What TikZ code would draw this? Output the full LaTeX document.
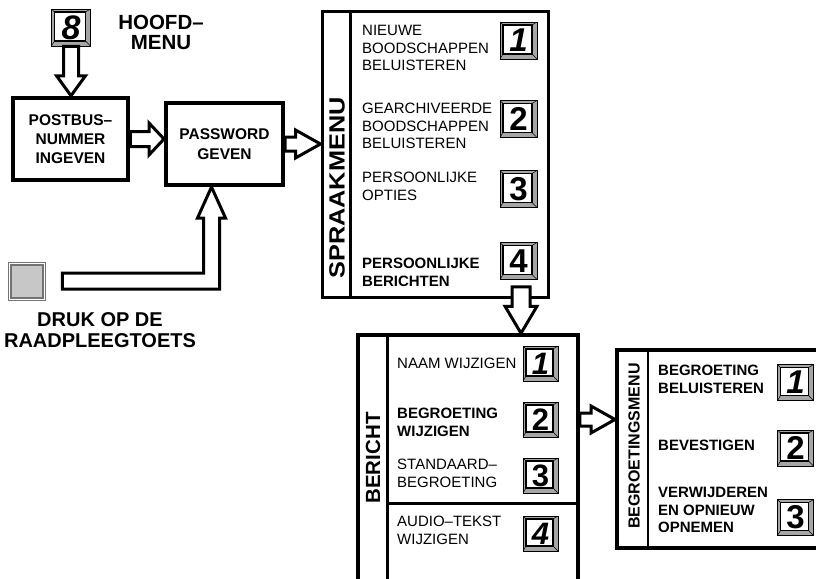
\documentclass[tikz,border=0pt]{standalone}
\usepackage{fontspec}
\setmainfont{Liberation Sans}
\usetikzlibrary{calc}
\tikzset{
  menubox/.style={draw, rectangle, inner sep=0pt, fill=white, line width=#1},
  divider/.style={line width=2.5pt},
  harrow/.style={draw, line width=3pt, fill=white, line join=miter},
  keybtn/.style={draw, line width=0.8pt, fill=black!35, rectangle, inner sep=0pt,
    minimum width=#1, minimum height=#1,
    font=\fontsize{33}{33}\selectfont\bfseries,
    path picture={
      \draw[line width=0.5pt] (path picture bounding box.north west) -- ++(3,3);
      \draw[line width=0.5pt] (path picture bounding box.south east) -- ++(-5,-5);
      \draw[line width=0.5pt] (path picture bounding box.north east) -- ++(-5,3);
      \draw[line width=0.5pt] (path picture bounding box.south west) -- ++(3,-5);
      \draw[line width=1.8pt, fill=white]
        ($(path picture bounding box.north west)+(3,3)$) rectangle
        ($(path picture bounding box.south east)+(-5,-5)$);
    }},
  itemtext/.style={anchor=north west, inner sep=0pt, align=left,
    font=\fontsize{15}{17.5}\selectfont},
  boldtext/.style={itemtext, font=\fontsize{15}{17.5}\selectfont\bfseries},
  sidelabel/.style={rotate=90, inner sep=0pt, font=\bfseries}
}
\newcommand\hollowH[5]{% start, tip, shaft half, head half, head length
  \draw[harrow] ($(#1)+(0,-#3)$) -- ($(#2)+(-#5,-#3)$) -- ($(#2)+(-#5,-#4)$) -- (#2)
    -- ($(#2)+(-#5,#4)$) -- ($(#2)+(-#5,#3)$) -- ($(#1)+(0,#3)$) -- cycle;}
\newcommand\hollowV[5]{% start, tip (downwards)
  \draw[harrow] ($(#1)+(-#3,0)$) -- ($(#2)+(-#3,-#5)$) -- ($(#2)+(-#4,-#5)$) -- (#2)
    -- ($(#2)+(#4,-#5)$) -- ($(#2)+(#3,-#5)$) -- ($(#1)+(#3,0)$) -- cycle;}
\begin{document}
\begin{tikzpicture}[x=1pt,y=-1pt]
\useasboundingbox (0,0) rectangle (816,578);
\clip (0,0) rectangle (816,578);
\fill[white] (0,0) rectangle (816,578);

% top-left part
\node[keybtn=37pt, minimum width=39pt, font=\fontsize{34}{34}\selectfont\bfseries] (k8) at (71,27.5) {\itshape 8};
\node[inner sep=0pt, align=center, font=\fontsize{20.5}{20}\selectfont\bfseries] (hoofd) at (161,32.5) {HOOFD–\\MENU};
\node[menubox=4.5pt, minimum width=115pt, minimum height=82pt, align=center,
      font=\fontsize{15.5}{19}\selectfont\bfseries] (postbus) at (70.5,139) {POSTBUS–\\NUMMER\\INGEVEN};
\node[menubox=4pt, minimum width=117pt, minimum height=82pt, align=center,
      font=\fontsize{15.5}{20}\selectfont\bfseries] (password) at (224.5,144) {PASSWORD\\GEVEN};

% raadpleegtoets
\node[draw=black!55, line width=0.6pt, minimum width=37pt, minimum height=38pt, inner sep=0pt,
      path picture={\draw[line width=1.3pt, fill=black!22]
        ($(path picture bounding box.north west)+(3,3)$) rectangle
        ($(path picture bounding box.south east)+(-2,-2)$);}] (btn) at (26.5,281) {};
\node[inner sep=0pt, align=center, font=\fontsize{20}{21}\selectfont\bfseries] (druk) at (100,330) {DRUK OP DE\\RAADPLEEGTOETS};

% spraakmenu
\node[menubox=3pt, minimum width=226pt, minimum height=285pt] (spraak) at (435,154.5) {};
\draw[divider] ($(spraak.north west)+(30,0)$) -- ($(spraak.south west)+(30,0)$);
\node[sidelabel] (spraaklbl) at (337,188) {\scalebox{1.15}[1]{\fontsize{22}{22}\selectfont SPRAAKMENU}};
\node[itemtext] (s1) at (362,25) {NIEUWE\\BOODSCHAPPEN\\BELUISTEREN};
\node[itemtext] (s2) at (362,103) {GEARCHIVEERDE\\BOODSCHAPPEN\\BELUISTEREN};
\node[itemtext] (s3) at (362,172) {PERSOONLIJKE\\OPTIES};
\node[boldtext] (s4) at (362,258) {PERSOONLIJKE\\BERICHTEN};
\node[keybtn=37pt] (ks1) at (518.5,40.5) {\itshape 1};
\node[keybtn=37pt] (ks2) at (518.5,119) {2};
\node[keybtn=37pt] (ks3) at (518.5,189) {3};
\node[keybtn=37pt] (ks4) at (518.5,261) {4};

% bericht
\node[menubox=3.5pt, minimum width=220pt, minimum height=265pt] (bericht) at (468,467.5) {};
\draw[divider] ($(bericht.north west)+(31,0)$) -- ($(bericht.south west)+(31,0)$);
\draw[divider] ($(bericht.north west)+(31,170)$) -- ($(bericht.north east)+(0,170)$);
\node[sidelabel, font=\fontsize{20.5}{20.5}\selectfont\bfseries] (berichtlbl) at (373,458) {BERICHT};
\node[itemtext] (b1) at (397,358) {NAAM WIJZIGEN};
\node[boldtext] (b2) at (397,408) {BEGROETING\\WIJZIGEN};
\node[itemtext] (b3) at (397,459) {STANDAARD–\\BEGROETING};
\node[itemtext] (b4) at (397,516) {AUDIO–TEKST\\WIJZIGEN};
\node[keybtn=35pt, font=\fontsize{31}{31}\selectfont\bfseries] (kb1) at (540.5,363.5) {\itshape 1};
\node[keybtn=35pt, font=\fontsize{31}{31}\selectfont\bfseries] (kb2) at (540.5,419.5) {2};
\node[keybtn=35pt, font=\fontsize{31}{31}\selectfont\bfseries] (kb3) at (540.5,475.5) {3};
\node[keybtn=35pt, font=\fontsize{31}{31}\selectfont\bfseries] (kb4) at (540.5,533.5) {\itshape 4};

% begroetingsmenu
\node[menubox=4pt, minimum width=203pt, minimum height=198pt] (begroet) at (718.5,449) {};
\draw[divider] ($(begroet.north west)+(33,0)$) -- ($(begroet.south west)+(33,0)$);
\node[sidelabel, font=\fontsize{16}{16}\selectfont\bfseries] (begroetlbl) at (634,446) {BEGROETINGSMENU};
\node[boldtext] (g1) at (658,365) {BEGROETING\\BELUISTEREN};
\node[boldtext] (g2) at (658,440) {BEVESTIGEN};
\node[boldtext] (g3) at (658,487) {VERWIJDEREN\\EN OPNIEUW\\OPNEMEN};
\node[keybtn=36pt] (kg1) at (795.5,382.5) {\itshape 1};
\node[keybtn=36pt] (kg2) at (795.5,448) {2};
\node[keybtn=36pt] (kg3) at (795.5,517.5) {3};

% connectors
\hollowV{k8.south}{k8.south |- postbus.north}{7.5}{14.5}{20}
\hollowH{postbus.east}{password.west |- postbus.east}{7.5}{16}{15}
\hollowH{password.east}{spraak.west |- password.east}{7}{14}{25}
\coordinate (sb) at ($(ks4.south)+(2.5,7)$);
\hollowV{sb}{sb |- bericht.north}{9}{16}{27}
\hollowH{bericht.east |- kb2.center}{begroet.west |- kb2.center}{6.5}{13.5}{24}

\coordinate (lstart) at ($(btn.east)+(17,0)$);
\coordinate (lbendx) at ($(password.south west)+(47.5,0)$);
\coordinate (lbend) at (lbendx |- lstart);
\coordinate (ltip) at (lbend |- password.south);
\draw[harrow] ($(lstart)+(0,-8)$) -- ($(lbend)+(-8,-8)$) -- ($(ltip)+(-8,31)$) -- ($(ltip)+(-14,31)$)
  -- (ltip) -- ($(ltip)+(14,31)$) -- ($(ltip)+(8,31)$) -- ($(lbend)+(8,8)$) -- ($(lstart)+(0,8)$) -- cycle;
\end{tikzpicture}
\end{document}
